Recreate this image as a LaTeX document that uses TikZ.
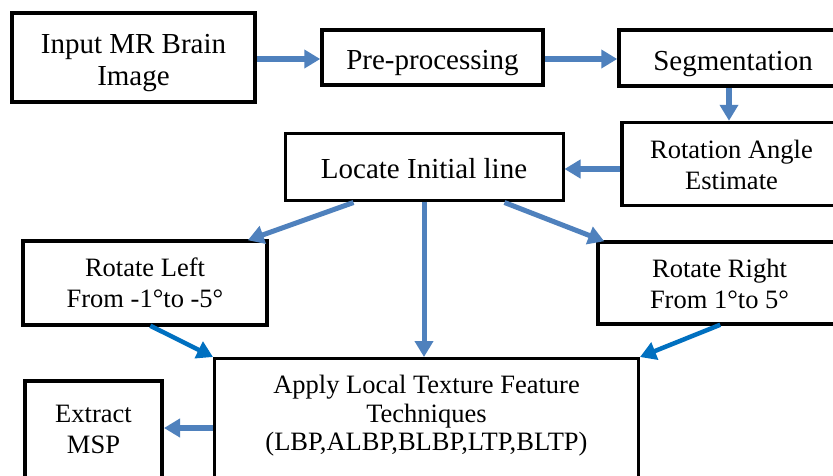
\documentclass[tikz,border=0pt]{standalone}
\usepackage{fontspec}
\setmainfont{Liberation Serif}
\usetikzlibrary{arrows.meta,calc}
\definecolor{arrblue}{HTML}{4F81BD}
\definecolor{arrdark}{HTML}{0070C0}
\tikzset{
  box/.style={draw=black, rectangle, inner sep=0pt, align=center, line width=3.5pt},
  bigtxt/.style={font=\fontsize{29}{32}\selectfont},
  smalltxt/.style={font=\fontsize{26.5}{31}\selectfont},
  flow/.style={draw=arrblue, line width=5.5pt, -{Triangle[length=16pt,width=18pt]}},
  flowd/.style={draw=arrdark, line width=4.5pt, -{Triangle[length=16pt,width=18pt]}}
}
\begin{document}
\begin{tikzpicture}[x=1pt,y=-1pt]
\useasboundingbox (0,0) rectangle (833,475);
\clip (0,0) rectangle (833,475);
\fill[white] (0,0) rectangle (833,475);

\node[box, bigtxt, line width=4pt, minimum width=243pt, minimum height=89pt] (input) at (133.5,57.5) {\rule{0pt}{31pt}Input MR Brain\\Image};
\node[box, bigtxt, minimum width=221pt, minimum height=55pt] (pre) at (432.5,57.5) {\rule{0pt}{31pt}Pre-processing};
\node[box, bigtxt, minimum width=228pt, minimum height=56pt] (seg) at (733,58) {\rule{0pt}{31pt}Segmentation};
\node[box, smalltxt, minimum width=219pt, minimum height=83pt] (rot) at (731.5,164) {\rule{0pt}{20pt}Rotation Angle\\Estimate};
\node[box, bigtxt, line width=3pt, minimum width=278pt, minimum height=67pt] (locate) at (424,166.5) {\rule{0pt}{24pt}Locate Initial line};
\node[box, smalltxt, minimum width=244pt, minimum height=84pt] (rotl) at (145,283) {Rotate Left\\From -1°to -5°};
\node[box, smalltxt, minimum width=243pt, minimum height=82pt] (rotr) at (719.5,283) {\rule{0pt}{20pt}Rotate Right\\From 1°to 5°};
\node[box, line width=3pt, minimum width=424pt, minimum height=140pt] (apply) at (426.5,428.5) {};
\node[align=center, inner sep=0pt, font=\fontsize{26.5}{28.5}\selectfont] (applytext) at (426.5,416) {Apply Local Texture Feature\\Techniques\\(LBP,ALBP,BLBP,LTP,BLTP)};
\node[box, smalltxt, line width=4pt, minimum width=137pt, minimum height=97pt] (extract) at (93.5,429) {Extract\\MSP};

\draw[flow] (input.east |- 0,59) -- (pre.west |- 0,59);
\draw[flow] (pre.east |- 0,59) -- (seg.west |- 0,59);
\draw[flow] ([xshift=-4pt]seg.south) -- ([xshift=-4pt]seg.south |- rot.north);
\draw[flow] (rot.west |- 0,169) -- (locate.east |- 0,169);
\draw[flow, line width=5pt] ($(locate.south west)+(70,1)$) -- ($(rotl.north east)+(-21,1)$);
\draw[flow, line width=5pt] (locate.south) -- (locate.south |- apply.north);
\draw[flow, line width=5pt] ($(locate.south east)+(-60,1)$) -- ($(rotr.north west)+(8,1)$);
\draw[flowd] ($(rotl.south west)+(129,-1)$) -- (apply.north west);
\draw[flowd] ($(rotr.south west)+(124,-1)$) -- (apply.north east);
\draw[flow] (apply.west |- 0,428) -- (extract.east |- 0,428);
\end{tikzpicture}
\end{document}
